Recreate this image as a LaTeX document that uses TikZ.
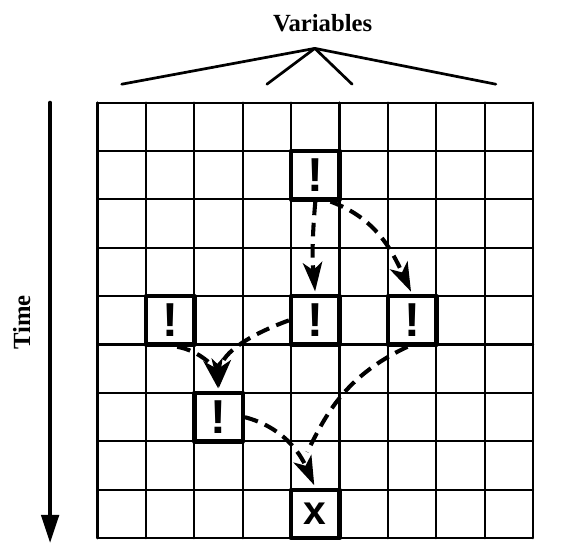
\documentclass[tikz,border=0pt]{standalone}
\usepackage{fontspec}
\setmainfont{Liberation Serif}
\newfontfamily\marksf{Liberation Sans}
\usetikzlibrary{arrows.meta}
\tikzset{
	gridline/.style={line width=1.3pt},
	markcell/.style={draw, line width=2.6pt, minimum size=1cm, inner sep=0pt,
		font=\marksf\bfseries\fontsize{28}{30}\selectfont},
	flowline/.style={line width=2.4pt, line cap=butt, dash pattern=on 8pt off 4.5pt},
	flow/.style={flowline, shorten >=1.5pt, -{Stealth[length=6mm,width=4mm,inset=1.6mm]}},
}
\begin{document}
\begin{tikzpicture}[line join=round, line cap=round, font=\bfseries\fontsize{14.5}{16}\selectfont]
			\path[use as bounding box, fill=white] (-2.015,-0.352) rectangle (9.68,11.12);
			\def\n{9}
			\draw[gridline] (0,0) grid (\n,\n);
			\node[anchor=base] (var) at (4.65,10.46) {Variables};
			\coordinate (apex) at (4.49,10.12);
			\foreach \e [count=\i] in {0.5,3.5,5.26,8.23} \coordinate (v\i) at (\e,9.38);
			\foreach \i in {1,...,4} \draw[line width=1.6pt] (apex)--(v\i);
			\node[anchor=base, rotate=90] (time) at (-1.39,4.46) {Time};
			\coordinate (ttop) at (-0.98,9.0);
			\coordinate (tbot) at (-0.98,-0.1);
			\draw[line width=2.2pt, -{Triangle[length=5.8mm,width=3.6mm]}] (ttop)--(tbot);
			\node[markcell] (a) at (4.5,7.5) {!};
			\node[markcell] (b) at (1.5,4.5) {!};
			\node[markcell] (c) at (4.5,4.5) {!};
			\node[markcell] (d) at (6.5,4.5) {!};
			\node[markcell] (e) at (2.5,2.5) {!};
			\node[markcell, font=\marksf\bfseries\fontsize{24}{26}\selectfont] (fail) at (4.5,0.5) {x};
			\coordinate (merge) at (4.33,1.78);
			\draw[flow] (a.south) to[bend right=5] (c.north);
			\draw[flow] (a.-60) to[out=-20,in=115] (d.north);
			\draw[flow] (c.west) to[out=200,in=85] (e.north);
			\draw[flow] (b.-75) to[out=-10,in=100] (e.north);
			\draw[flow] (e.east) to[out=-15,in=114] (fail.north);
			\draw[flowline] (d.-100) to[out=205,in=62,out looseness=1.3,in looseness=0.6] (merge);
		\end{tikzpicture}
\end{document}
